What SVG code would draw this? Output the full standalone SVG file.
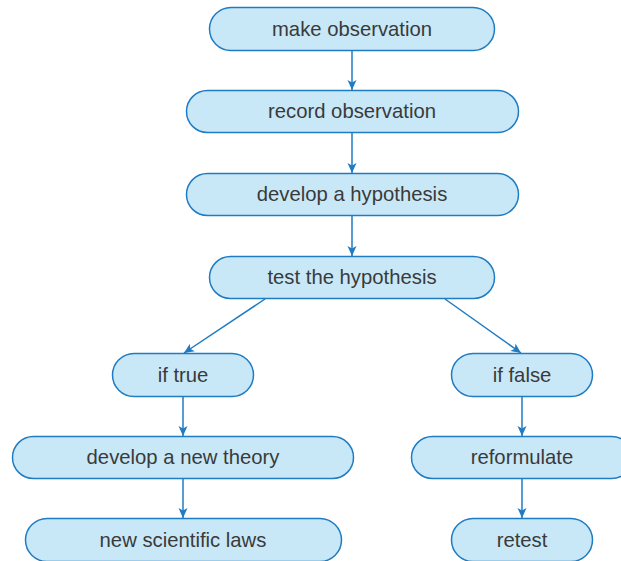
<svg xmlns="http://www.w3.org/2000/svg" width="621" height="561" viewBox="0 0 621 561">
<style>
.n rect{fill:#c8e8f8;stroke:#1f7cc2;stroke-width:1.5}
.n text{font-family:"Liberation Sans",Arial,sans-serif;font-size:20.3px;fill:#3a3a3a;text-anchor:middle}
.c line{stroke:#1f7cc2;stroke-width:1.5;marker-end:url(#ah)}
</style>
<defs>
<marker id="ah" viewBox="0 0 10 10" refX="10" refY="5" markerWidth="10" markerHeight="10" markerUnits="userSpaceOnUse" orient="auto">
<path d="M0,0.5 L10,5 L0,9.5 L2.5,5 Z" fill="#1f7cc2"/>
</marker>
</defs>
<rect width="621" height="561" fill="#fff"/>
<g id="connectors" class="c">
<line x1="352" y1="51" x2="352" y2="90"/>
<line x1="352" y1="133" x2="352" y2="173"/>
<line x1="352" y1="216" x2="352" y2="256"/>
<line x1="265" y1="299" x2="184" y2="353"/>
<line x1="445" y1="299" x2="521" y2="353"/>
<line x1="183" y1="397" x2="183" y2="436"/>
<line x1="183" y1="479" x2="183" y2="518"/>
<line x1="522" y1="397" x2="522" y2="436"/>
<line x1="522" y1="479" x2="522" y2="518"/>
</g>
<g id="n1" class="n"><rect x="209.5" y="7.5" width="285" height="43" rx="21.5"/><text x="352" y="36">make observation</text></g>
<g id="n2" class="n"><rect x="186.5" y="90.5" width="332" height="42" rx="21"/><text x="352" y="118">record observation</text></g>
<g id="n3" class="n"><rect x="186.5" y="173.5" width="332" height="42" rx="21"/><text x="352" y="201">develop a hypothesis</text></g>
<g id="n4" class="n"><rect x="209.5" y="256.5" width="285" height="42" rx="21"/><text x="352" y="284">test the hypothesis</text></g>
<g id="n5" class="n"><rect x="112.5" y="353.5" width="141" height="43" rx="21.5"/><text x="183" y="382">if true</text></g>
<g id="n6" class="n"><rect x="451.5" y="353.5" width="141" height="43" rx="21.5"/><text x="522" y="382">if false</text></g>
<g id="n7" class="n"><rect x="12.5" y="436.5" width="341" height="42" rx="21"/><text x="183" y="464">develop a new theory</text></g>
<g id="n8" class="n"><rect x="411.5" y="436.5" width="221" height="42" rx="21"/><text x="522" y="464">reformulate</text></g>
<g id="n9" class="n"><rect x="25.5" y="518.5" width="316" height="43" rx="21.5"/><text x="183" y="547">new scientific laws</text></g>
<g id="n10" class="n"><rect x="451.5" y="518.5" width="141" height="43" rx="21.5"/><text x="522" y="547">retest</text></g>
</svg>
